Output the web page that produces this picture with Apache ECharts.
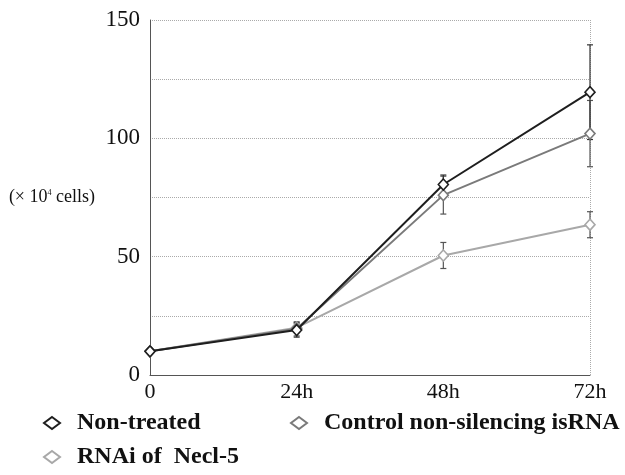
<!DOCTYPE html>
<html>
<head>
<meta charset="utf-8">
<script src="https://cdn.jsdelivr.net/npm/echarts@6/dist/echarts.min.js"></script>
<style>
  html, body { margin: 0; padding: 0; background: #fff; }
  #main { width: 625px; height: 475px; }
</style>
</head>
<body>
<div id="main"></div>
<script>
// time points
var categories = ['0', '24h', '48h', '72h'];

// cell counts (x10^4 cells)
var nonTreated = [10, 19, 80.5, 119.5];
var nonTreatedErr = [0, 3, 4, 20];
var controlRNA = [10, 19.5, 76, 102];
var controlErr = [0, 3, 8, 14];
var rnaiNecl5 = [10, 20, 50.5, 63.5];
var rnaiErr = [0, 2, 5.5, 5.5];

var seriesNames = ['Non-treated', 'Control non-silencing isRNA', 'RNAi of  Necl-5'];
var seriesColors = ['#1e1e1e', '#7a7a7a', '#a8a8a8'];

var font = '"Liberation Serif", "Times New Roman", serif';

var myChart = echarts.init(document.getElementById('main'));

function errorSeries(values, errs, color) {
  var data = values.map(function (v, i) { return [i, v - errs[i], v + errs[i]]; });
  return {
    type: 'custom',
    silent: true,
    z: 3,
    data: data,
    renderItem: function (params, api) {
      if (api.value(2) - api.value(1) <= 0) return null;
      var low = api.coord([api.value(0), api.value(1)]);
      var high = api.coord([api.value(0), api.value(2)]);
      var w = 3;
      var style = { stroke: color, lineWidth: 1.2 };
      return {
        type: 'group',
        children: [
          { type: 'line', shape: { x1: high[0], y1: high[1], x2: low[0], y2: low[1] }, style: style },
          { type: 'line', shape: { x1: high[0] - w, y1: high[1], x2: high[0] + w, y2: high[1] }, style: style },
          { type: 'line', shape: { x1: low[0] - w, y1: low[1], x2: low[0] + w, y2: low[1] }, style: style }
        ]
      };
    }
  };
}

function lineSeries(name, values, color, z) {
  return {
    name: name,
    type: 'line',
    data: values,
    z: z,
    symbol: 'diamond',
    symbolSize: [10, 11],
    lineStyle: { color: color, width: 2 },
    itemStyle: { color: '#fff', borderColor: color, borderWidth: 1.6 }
  };
}

function legendAt(name, left, top) {
  return {
    data: [name],
    left: left,
    top: top,
    itemWidth: 16,
    itemHeight: 12,
    icon: 'diamond',
    textStyle: { color: '#111', fontFamily: font, fontSize: 24, fontWeight: 'bold', padding: [0, 0, 0, 12] }
  };
}

var option = {
  backgroundColor: '#fff',
  animation: false,
  grid: { left: 150, right: 35, top: 20, bottom: 100, outerBoundsMode: 'none' },
  xAxis: {
    type: 'category',
    data: categories,
    boundaryGap: false,
    axisLine: { lineStyle: { color: '#555', width: 1 } },
    axisTick: { show: false },
    axisLabel: { color: '#111', fontFamily: font, fontSize: 22, margin: 6 },
    splitLine: {
      show: true,
      interval: function (index) { return index === 3; },
      lineStyle: { color: '#aaa', type: 'dotted', width: 1 }
    }
  },
  yAxis: {
    type: 'value',
    min: 0,
    max: 150,
    interval: 25,
    name: '(× 10{sup|4} cells)',
    nameLocation: 'middle',
    nameRotate: 0,
    nameGap: 55,
    nameTextStyle: {
      color: '#111',
      fontFamily: font,
      fontSize: 18,
      rich: { sup: { fontSize: 8, verticalAlign: 'top', lineHeight: 18, padding: [0, 0, 12, 0], fontFamily: font } }
    },
    axisLine: { show: true, lineStyle: { color: '#555', width: 1 } },
    axisTick: { show: false },
    axisLabel: {
      color: '#111',
      fontFamily: font,
      fontSize: 23,
      margin: 10,
      formatter: function (v) { return v % 50 === 0 ? String(v) : ''; }
    },
    splitLine: { lineStyle: { color: '#aaa', type: 'dotted', width: 1 } }
  },
  legend: [
    legendAt(seriesNames[0], 38, 406),
    legendAt(seriesNames[1], 285, 406),
    legendAt(seriesNames[2], 38, 440)
  ],
  series: [
    lineSeries(seriesNames[2], rnaiNecl5, seriesColors[2], 4),
    lineSeries(seriesNames[1], controlRNA, seriesColors[1], 5),
    lineSeries(seriesNames[0], nonTreated, seriesColors[0], 6),
    errorSeries(rnaiNecl5, rnaiErr, '#555'),
    errorSeries(controlRNA, controlErr, '#555'),
    errorSeries(nonTreated, nonTreatedErr, '#333')
  ]
};

option && myChart.setOption(option);
</script>
</body>
</html>
